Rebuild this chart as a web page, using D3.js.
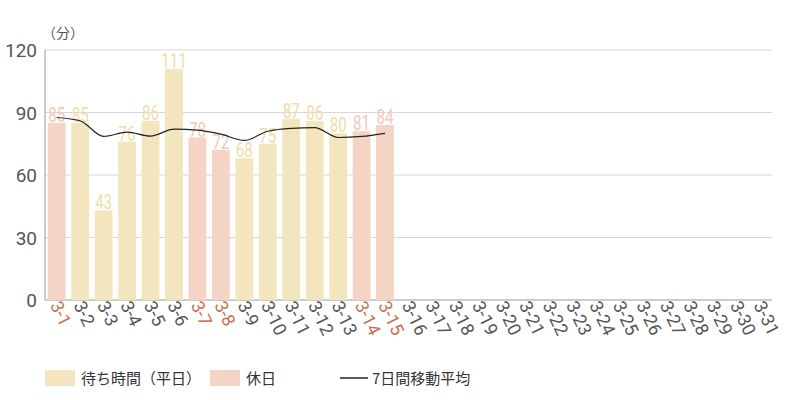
<!DOCTYPE html>
<html lang="ja">
<head>
<meta charset="utf-8">
<script src="https://d3js.org/d3.v7.min.js"></script>
<style>
  body { margin: 0; background: #fff; font-family: "Noto Sans CJK JP", "Noto Sans", sans-serif; }
</style>
</head>
<body>
<div id="chart"></div>
<script>
const days = d3.range(1, 32).map(d => "3-" + d);
const waits = [85, 85, 43, 76, 86, 111, 78, 72, 68, 75, 87, 86, 80, 81, 84];
const holidays = ["3-1", "3-7", "3-8", "3-14", "3-15"];
const movingAvg = [87.6, 86, 78.5, 80.6, 78.7, 82, 81.5, 79.6, 76.6, 81, 82.4, 82.7, 78, 78.5, 80];
const yTicks = [0, 30, 60, 90, 120];

const width = 800, height = 400;
const margin = {left: 45, right: 28, top: 50, bottom: 100};
const weekdayColor = "#f3e5bd", holidayColor = "#f4d4c4";

const svg = d3.select("#chart").append("svg")
  .attr("width", width).attr("height", height);

const x = d3.scaleBand().domain(days)
  .range([margin.left, width - margin.right]).paddingInner(0.24).paddingOuter(0.12);
const y = d3.scaleLinear().domain([0, 120]).range([height - margin.bottom, margin.top]);

// grid
svg.append("g").selectAll("line").data(yTicks.slice(1)).join("line")
  .attr("x1", margin.left).attr("x2", width - margin.right)
  .attr("y1", d => y(d)).attr("y2", d => y(d))
  .attr("stroke", "#d8d6d8");

// y axis
svg.append("g").selectAll("text").data(yTicks).join("text")
  .attr("x", margin.left - 8).attr("y", d => y(d) + 7)
  .attr("text-anchor", "end").attr("font-size", 19).attr("fill", "#555")
  .attr("font-family", "Roboto, sans-serif")
  .text(d => d);
svg.append("text").attr("x", 42).attr("y", 38).attr("font-size", 14).attr("fill", "#555").text("（分）");

svg.append("line").attr("x1", margin.left).attr("x2", margin.left)
  .attr("y1", margin.top).attr("y2", y(0)).attr("stroke", "#999");
svg.append("line").attr("x1", margin.left).attr("x2", width - margin.right)
  .attr("y1", y(0)).attr("y2", y(0)).attr("stroke", "#999");

const isHol = d => holidays.includes(d);
const cx = i => x(days[i]) + x.bandwidth() / 2;

// bars
svg.append("g").selectAll("rect").data(waits).join("rect")
  .attr("x", (d, i) => x(days[i])).attr("width", x.bandwidth())
  .attr("y", d => y(d)).attr("height", d => y(0) - y(d))
  .attr("fill", (d, i) => isHol(days[i]) ? holidayColor : weekdayColor);

// value labels
svg.append("g").selectAll("text").data(waits).join("text")
  .attr("transform", (d, i) => `translate(${cx(i)},${y(d) - 1}) scale(0.72,1)`)
  .attr("text-anchor", "middle").attr("font-size", 21)
  .attr("font-family", "Roboto, sans-serif")
  .attr("fill", (d, i) => isHol(days[i]) ? "#f1c9b5" : "#f0dca6")
  .text(d => d);

// moving average
const line = d3.line().x((d, i) => cx(i)).y(d => y(d)).curve(d3.curveMonotoneX);
svg.append("path").datum(movingAvg).attr("d", line)
  .attr("fill", "none").attr("stroke", "#222").attr("stroke-width", 1.2);

// x labels
svg.append("g").selectAll("text").data(days).join("text")
  .attr("transform", d => `translate(${x(d) + x.bandwidth() / 2 - 7},${y(0) + 5}) rotate(64)`)
  .attr("font-size", 18).attr("fill", d => isHol(d) ? "#c8714f" : "#555")
  .attr("font-family", "Roboto, sans-serif")
  .text(d => d);

// legend
const legend = [
  {label: "待ち時間（平日）", type: "rect", color: weekdayColor, x: 45},
  {label: "休日", type: "rect", color: holidayColor, x: 210},
  {label: "7日間移動平均", type: "line", color: "#222", x: 340}
];
const lg = svg.append("g").selectAll("g").data(legend).join("g")
  .attr("transform", d => `translate(${d.x},378)`);
lg.filter(d => d.type === "rect").append("rect")
  .attr("x", 0).attr("y", -8).attr("width", 30).attr("height", 16).attr("fill", d => d.color);
lg.filter(d => d.type === "line").append("line")
  .attr("x1", 0).attr("x2", 28).attr("y1", 0).attr("y2", 0).attr("stroke", d => d.color).attr("stroke-width", 1.5);
lg.append("text").attr("x", d => d.type === "rect" ? 36 : 32).attr("y", 6)
  .attr("font-size", 15).attr("fill", "#333").text(d => d.label);
</script>
</body>
</html>
